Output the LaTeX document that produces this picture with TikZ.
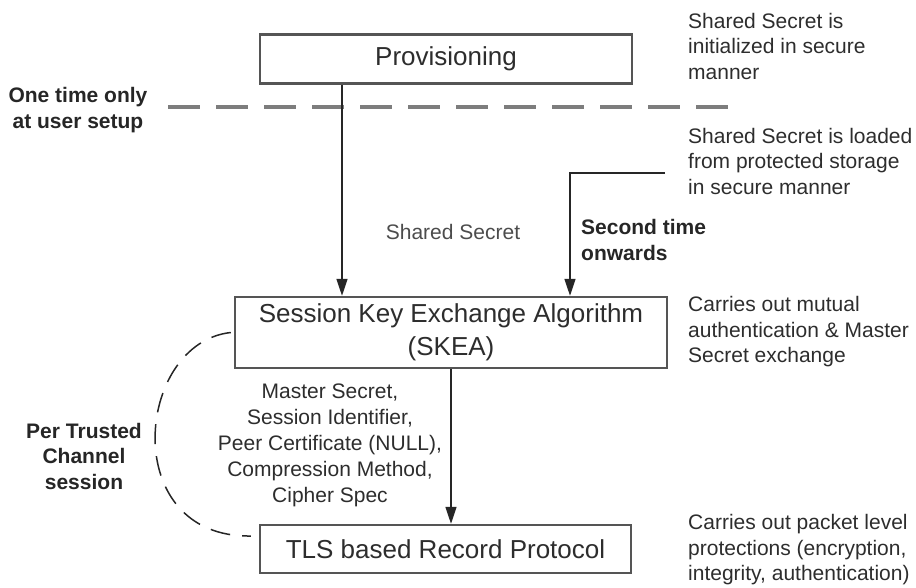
\documentclass[tikz,border=0pt]{standalone}
\usepackage{fontspec}
\setmainfont{Liberation Sans}
\usetikzlibrary{arrows.meta}
\definecolor{boxline}{RGB}{85,85,85}
\definecolor{txt}{RGB}{45,45,45}
\definecolor{dashgray}{RGB}{125,125,125}
\tikzset{
  block/.style={draw=boxline, line width=2.4pt, fill=white, font=\fontsize{26}{33}\selectfont, text=txt, align=center, inner sep=0pt},
  note/.style={font=\fontsize{21}{25.5}\selectfont, text=txt, align=left, anchor=west, inner sep=0pt},
  remark/.style={font=\bfseries\fontsize{21}{25.5}\selectfont, text=black!85, inner sep=0pt},
  flow/.style={line width=1.5pt, draw=black!85, -{Triangle[width=11pt,length=17pt]}},
  divider/.style={line width=4pt, draw=dashgray, dash pattern=on 32pt off 16pt},
  session/.style={line width=1.5pt, draw=black!85, dash pattern=on 20pt off 12pt}
}
\begin{document}
\begin{tikzpicture}[x=1pt, y=-1pt]
\useasboundingbox (0,0) rectangle (916,588);

\node[block, minimum width=372pt, minimum height=49pt] (prov) at (446,59) {Provisioning};
\node[block, minimum width=432pt, minimum height=71pt] (skea) at (451,332.5) {Session Key Exchange Algorithm\\(SKEA)};
\node[block, minimum width=371pt, minimum height=48pt] (tls) at (445.5,549) {TLS based Record Protocol};

\draw[divider] (168,107) node (dleft) {} -- (730,107) node (dright) {};

\coordinate (first) at ([xshift=-104pt]prov.south);
\coordinate (load) at (665,173);
\coordinate (bend) at (570,173);
\draw[flow] (first) -- (first |- skea.north);
\draw[flow] (load) -- (bend) -- (bend |- skea.north);
\draw[flow] (skea.south) -- (skea.south |- tls.north);

\draw[session] ([xshift=-3pt]skea.west) .. controls (135,343) and (118,538) .. ([shift={(-8pt,13pt)}]tls.west);

\node[note] (initnote) at (688,46) {Shared Secret is\\initialized in secure\\manner};
\node[note] (loadnote) at (688,161) {Shared Secret is loaded\\from protected storage\\in secure manner};
\node[note] (skeanote) at (688,332) {Carries out mutual\\authentication \& Master\\Secret exchange};
\node[note] (tlsnote) at (688,550) {Carries out packet level\\protections (encryption,\\integrity, authentication)};

\node[remark, align=center] (once) at (78,110) {One time only\\at user setup};
\node[remark, align=left, anchor=west] (second) at (581,240) {Second time\\onwards};
\node[remark, align=center] (persession) at (84,456) {Per Trusted\\Channel\\session};

\node[font=\fontsize{21}{25.5}\selectfont, text=black!70, inner sep=0pt] (secret) at (453,232) {Shared Secret};
\node[font=\fontsize{21}{26}\selectfont, text=txt, align=center, inner sep=0pt] (params) at (330,445) {Master Secret,\\Session Identifier,\\Peer Certificate (NULL),\\Compression Method,\\Cipher Spec};
\end{tikzpicture}
\end{document}
